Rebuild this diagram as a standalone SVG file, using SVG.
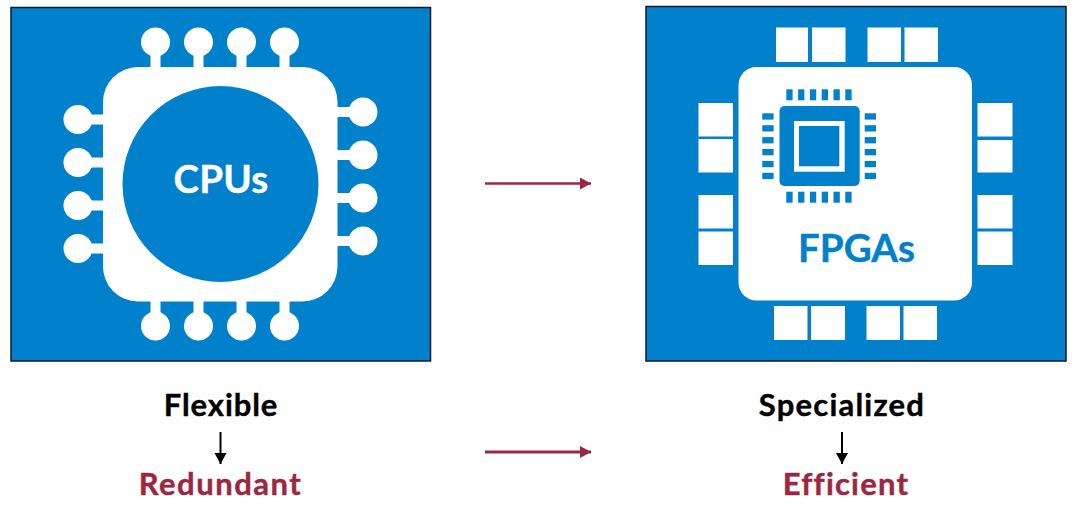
<svg xmlns="http://www.w3.org/2000/svg" width="1080" height="512" viewBox="0 0 1080 512">
<style>
.panel{fill:#0180cc;stroke:#0c1a2e;stroke-width:1.5}
.w{fill:#fff}
.b{fill:#0180cc}
.pin{stroke:#fff;stroke-width:10;fill:none}
text{font-family:"Lato","Liberation Sans",sans-serif;font-weight:700;text-anchor:middle;font-variant-ligatures:none}
.lbl{font-size:31px;fill:#000;stroke:#000;stroke-width:.4}
.red{font-size:31px;fill:#9b2743;stroke:#9b2743;stroke-width:.4}
.bl{font-size:38.500px}
</style>
<defs>
<marker id="ah" markerUnits="userSpaceOnUse" markerWidth="13" markerHeight="13" refX="11" refY="6" orient="auto"><path d="M0 0L11 6L0 12Z" fill="#9b2743"/></marker>
<marker id="ak" markerUnits="userSpaceOnUse" markerWidth="12" markerHeight="14" refX="11" refY="6" orient="auto"><path d="M0 0L11 6L0 12Z" fill="#000"/></marker>
</defs>
<rect width="1080" height="512" fill="#fff"/>
<g id="cpu-panel">
<rect class="panel" x="11" y="7.500" width="419.500" height="353.500"/>
<path class="pin" d="M155.500 42V72M198.500 42V72M241.500 42V72M284.500 42V72M155.500 296V326M198.500 296V326M241.500 296V326M284.500 296V326M78 119.500H108M78 162.500H108M78 205.500H108M78 248.500H108M332 112H363M332 155H363M332 198H363M332 241H363"/>
<g class="w">
<circle cx="155.500" cy="42" r="14.500"/><circle cx="198.500" cy="42" r="14.500"/><circle cx="241.500" cy="42" r="14.500"/><circle cx="284.500" cy="42" r="14.500"/>
<circle cx="155.500" cy="326" r="14.500"/><circle cx="198.500" cy="326" r="14.500"/><circle cx="241.500" cy="326" r="14.500"/><circle cx="284.500" cy="326" r="14.500"/>
<circle cx="78" cy="119.500" r="14.500"/><circle cx="78" cy="162.500" r="14.500"/><circle cx="78" cy="205.500" r="14.500"/><circle cx="78" cy="248.500" r="14.500"/>
<circle cx="363" cy="112" r="14.500"/><circle cx="363" cy="155" r="14.500"/><circle cx="363" cy="198" r="14.500"/><circle cx="363" cy="241" r="14.500"/>
<rect x="103" y="67" width="234.500" height="234.500" rx="35"/>
</g>
<circle class="b" cx="220.500" cy="184" r="98"/>
<text class="bl" x="221" y="193" fill="#fff" stroke="#fff" stroke-width=".4" letter-spacing=".3">CPUs</text>
</g>
<g id="fpga-panel">
<rect class="panel" x="646" y="6.500" width="420" height="354.500"/>
<g class="w">
<rect x="776" y="27.500" width="32" height="34.500"/><rect x="812" y="27.500" width="33.500" height="34.500"/><rect x="867.500" y="27.500" width="33.500" height="34.500"/><rect x="904.500" y="27.500" width="33.500" height="34.500"/>
<rect x="774" y="306" width="33.500" height="34"/><rect x="811" y="306" width="34" height="34"/><rect x="866.500" y="306" width="33.500" height="34"/><rect x="903.500" y="306" width="33.500" height="34"/>
<rect x="698.500" y="103" width="34.500" height="33.500"/><rect x="698.500" y="139" width="34.500" height="33.500"/><rect x="698.500" y="195" width="34.500" height="33.500"/><rect x="698.500" y="231.500" width="34.500" height="33.500"/>
<rect x="977.500" y="103" width="35" height="33.500"/><rect x="977.500" y="140" width="35" height="32.500"/><rect x="977.500" y="195" width="35" height="33.500"/><rect x="977.500" y="231.500" width="35" height="33.500"/>
<rect x="738.500" y="67" width="233.500" height="233.500" rx="18"/>
</g>
<g id="fpga-icon">
<rect class="b" x="779.500" y="106" width="80.200" height="80" rx="5"/>
<rect class="w" x="794" y="121" width="50.700" height="50.700"/>
<rect class="b" x="799" y="126" width="40.300" height="40.300"/>
<g class="b">
<rect x="786.300" y="89.300" width="6.300" height="11"/><rect x="798.100" y="89.300" width="6.300" height="11"/><rect x="809.900" y="89.300" width="6.300" height="11"/><rect x="821.700" y="89.300" width="6.300" height="11"/><rect x="833.500" y="89.300" width="6.300" height="11"/><rect x="845.300" y="89.300" width="6.300" height="11"/>
<rect x="786.300" y="191.700" width="6.300" height="11"/><rect x="798.100" y="191.700" width="6.300" height="11"/><rect x="809.900" y="191.700" width="6.300" height="11"/><rect x="821.700" y="191.700" width="6.300" height="11"/><rect x="833.500" y="191.700" width="6.300" height="11"/><rect x="845.300" y="191.700" width="6.300" height="11"/>
<rect x="762.300" y="113.300" width="11.300" height="6.300"/><rect x="762.300" y="125.200" width="11.300" height="6.300"/><rect x="762.300" y="137.100" width="11.300" height="6.300"/><rect x="762.300" y="149" width="11.300" height="6.300"/><rect x="762.300" y="160.900" width="11.300" height="6.300"/><rect x="762.300" y="172.800" width="11.300" height="6.300"/>
<rect x="864.700" y="113.300" width="11.300" height="6.300"/><rect x="864.700" y="125.200" width="11.300" height="6.300"/><rect x="864.700" y="137.100" width="11.300" height="6.300"/><rect x="864.700" y="149" width="11.300" height="6.300"/><rect x="864.700" y="160.900" width="11.300" height="6.300"/><rect x="864.700" y="172.800" width="11.300" height="6.300"/>
</g>
</g>
<text class="bl" x="856.500" y="262" fill="#0180cc" stroke="#0180cc" stroke-width=".4">FPGAs</text>
</g>
<g id="label-flexible"><text class="lbl" x="221" y="416" letter-spacing=".9">Flexible</text></g>
<g id="label-redundant"><text class="red" x="220.500" y="495" letter-spacing="1.500">Redundant</text></g>
<g id="label-specialized"><text class="lbl" x="842" y="416" letter-spacing="1.200">Specialized</text></g>
<g id="label-efficient"><text class="red" x="846" y="495" letter-spacing="1.200">Efficient</text></g>
<g id="connectors" fill="none">
<path d="M485 183.500H591" stroke="#9b2743" stroke-width="2.500" marker-end="url(#ah)"/>
<path d="M485 452H591" stroke="#9b2743" stroke-width="3" marker-end="url(#ah)"/>
<path d="M220.500 432V464" stroke="#000" stroke-width="2" marker-end="url(#ak)"/>
<path d="M842 432V464" stroke="#000" stroke-width="2" marker-end="url(#ak)"/>
</g>
</svg>
